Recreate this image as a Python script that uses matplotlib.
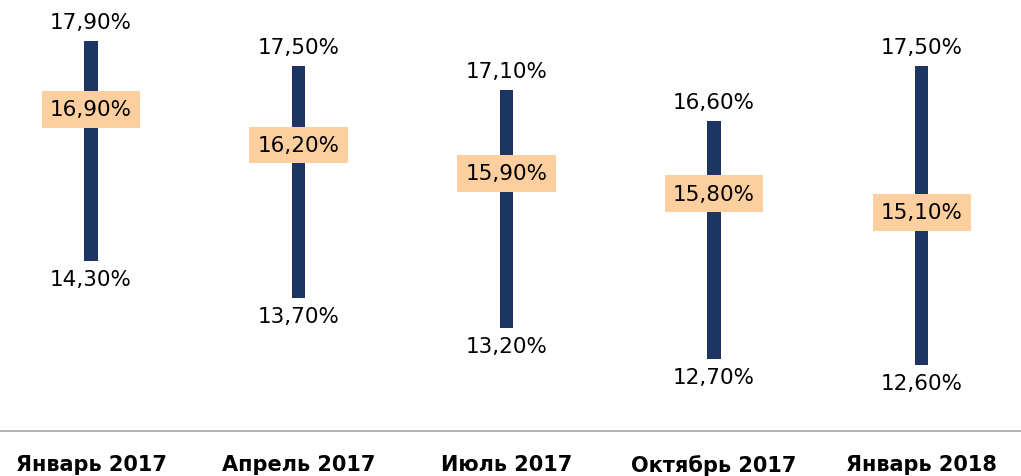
import matplotlib.pyplot as plt

# data
periods = ['Январь 2017', 'Апрель 2017', 'Июль 2017', 'Октябрь 2017', 'Январь 2018']
high = [17.9, 17.5, 17.1, 16.6, 17.5]
low = [14.3, 13.7, 13.2, 12.7, 12.6]
mid = [16.9, 16.2, 15.9, 15.8, 15.1]

# manual nudge of the middle labels (pixels, down is positive)
mid_shift = [7, 0, 10, 24, 0]

bar_color = '#1c3562'
box_color = '#fdcf9f'

def fmt(v):
    return ('%.2f%%' % v).replace('.', ',')

fig = plt.figure(figsize=(10.21, 4.77), dpi=100)
ax = fig.add_axes([0, 0.0933, 1, 0.9067])

x = list(range(len(periods)))
heights = [h - l for h, l in zip(high, low)]
ax.bar(x, heights, bottom=low, width=0.064, color=bar_color)

px = 0.72  # points per pixel at dpi 100
for i in x:
    ax.annotate(fmt(high[i]), (i, high[i]), xytext=(0, 19 * px), textcoords='offset points',
                ha='center', va='center', fontsize=15.5, color='black')
    ax.annotate(fmt(low[i]), (i, low[i]), xytext=(0, -18 * px), textcoords='offset points',
                ha='center', va='center', fontsize=15.5, color='black')
    ax.annotate(fmt(mid[i]), (i, mid[i]), xytext=(0, -mid_shift[i] * px), textcoords='offset points',
                ha='center', va='center', fontsize=15.5, color='black',
                bbox=dict(boxstyle='square,pad=0.38', fc=box_color, ec='none'))

ax.set_xlim(-0.438, 4.478)
ax.set_ylim(11.512, 18.593)
ax.set_xticks(x)
ax.set_xticklabels(periods, fontsize=15, fontweight='bold')
ax.tick_params(axis='x', length=0, pad=16)
ax.set_yticks([])
for s in ['top', 'left', 'right']:
    ax.spines[s].set_visible(False)
ax.spines['bottom'].set_color('#a6a6a6')
ax.spines['bottom'].set_linewidth(1.2)

fig.savefig('out.png', dpi=100)
